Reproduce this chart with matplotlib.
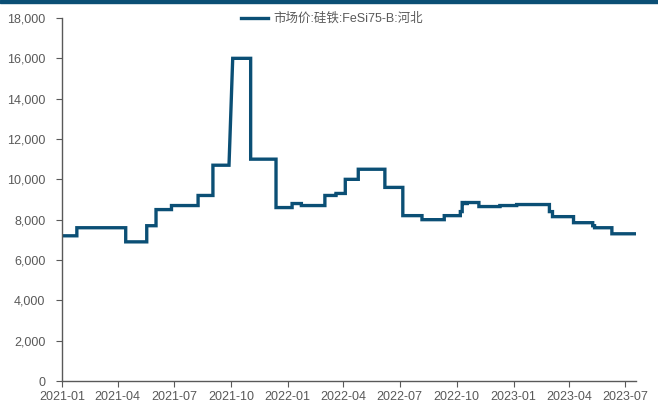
import matplotlib
matplotlib.use("Agg")
import matplotlib.pyplot as plt
import matplotlib.dates as mdates
import numpy as np
import pandas as pd
from matplotlib.patches import Rectangle

plt.rcParams['font.family'] = ['Liberation Sans', 'Noto Sans CJK SC', 'DejaVu Sans']

# change dates of the step series and the price from that date on
dates = ["2021-01-01", "2021-01-25", "2021-04-14", "2021-05-18", "2021-06-02",
         "2021-06-27", "2021-08-09", "2021-09-02", "2021-09-28", "2021-10-04",
         "2021-11-02", "2021-12-13", "2022-01-08", "2022-01-23", "2022-03-02",
         "2022-03-20", "2022-04-04", "2022-04-25", "2022-06-07", "2022-07-06",
         "2022-08-06", "2022-09-11", "2022-10-07", "2022-10-10", "2022-10-13",
         "2022-10-18", "2022-11-06", "2022-12-10", "2023-01-06", "2023-02-28",
         "2023-03-05", "2023-04-08", "2023-05-09", "2023-05-12", "2023-06-09",
         "2023-07-18"]
prices = [7200, 7600, 6900, 7700, 8500,
          8700, 9200, 10700, 10700, 16000,
          11000, 8600, 8800, 8700, 9200,
          9300, 10000, 10500, 9600, 8200,
          8000, 8200, 8400, 8850, 8800,
          8850, 8650, 8700, 8750, 8400,
          8150, 7850, 7700, 7600, 7300,
          7300]
# days where the price moved gradually rather than in one jump
ramps = ["2021-10-04"]
series_name = "市场价:硅铁:FeSi75-B:河北"
yticks = list(range(0, 18001, 2000))
xtick_dates = ["2021-01", "2021-04", "2021-07", "2021-10", "2022-01", "2022-04",
               "2022-07", "2022-10", "2023-01", "2023-04", "2023-07"]

x = pd.to_datetime(dates)
ramp_days = set(pd.to_datetime(ramps))

# build step path (sloped where listed in ramps)
px, py = [x[0]], [prices[0]]
for i in range(1, len(x)):
    if x[i] not in ramp_days:
        px.append(x[i])
        py.append(prices[i - 1])
    px.append(x[i])
    py.append(prices[i])

blue = "#0B4F75"
grey = "#595959"

fig = plt.figure(figsize=(6.58, 4.03), dpi=100)
ax = fig.add_axes([62 / 658, 22 / 403, 574 / 658, 363 / 403])
ax.plot(px, py, color=blue, lw=2.4, label=series_name, solid_joinstyle="miter")

ax.set_xlim(x[0], x[-1])
ax.set_ylim(0, 18000)
ax.set_yticks(yticks)
ax.set_yticklabels([f"{v:,}" for v in yticks])
ax.set_xticks(pd.to_datetime(xtick_dates))
ax.xaxis.set_major_formatter(mdates.DateFormatter("%Y-%m"))

for s in ["top", "right"]:
    ax.spines[s].set_visible(False)
for s in ["left", "bottom"]:
    ax.spines[s].set_color(grey)
    ax.spines[s].set_linewidth(1.0)
ax.tick_params(axis="both", colors=grey, labelsize=9, length=4, width=0.8,
               direction="out", labelcolor=grey)
ax.tick_params(axis="y", pad=8)

leg = ax.legend(loc="upper center", bbox_to_anchor=(0.47, 1.045), frameon=False,
                fontsize=9, handlelength=2.2, handletextpad=0.4)
for t in leg.get_texts():
    t.set_color(grey)

fig.patches.append(Rectangle((0, 1 - 3 / 403), 1, 3 / 403, transform=fig.transFigure,
                             color=blue, zorder=10))

fig.savefig("out.png", dpi=100)
